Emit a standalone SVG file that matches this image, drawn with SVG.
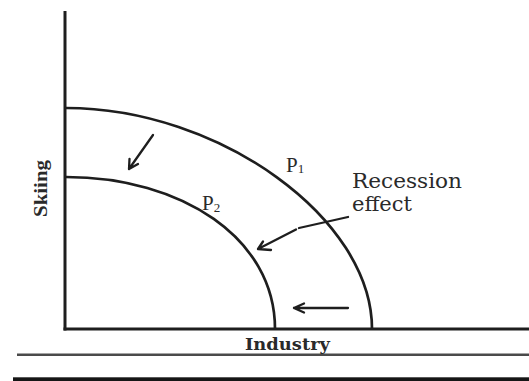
<svg xmlns="http://www.w3.org/2000/svg" width="529" height="381" viewBox="0 0 529 381">
<style>
.ax{stroke:#1e1e1e;stroke-width:3;fill:none}
.cv{stroke:#1e1e1e;stroke-width:2.7;fill:none}
.ar{stroke:#1e1e1e;stroke-width:2.3;fill:none;stroke-linecap:round;stroke-linejoin:round}
.lb{font-family:"Liberation Serif","DejaVu Serif",serif;fill:#2a2a2a}
.ds{font-family:"DejaVu Serif","Liberation Serif",serif;fill:#2a2a2a}
</style>
<rect width="529" height="381" fill="#fff"/>
<g id="axes">
<line class="ax" x1="65" y1="11" x2="65" y2="330.5"/>
<line class="ax" x1="63.5" y1="329" x2="529" y2="329"/>
</g>
<g id="rules">
<line x1="17" y1="354.7" x2="529" y2="354.7" stroke="#4a4a4a" stroke-width="2.6"/>
<rect x="13" y="377.3" width="516" height="3.7" fill="#161616"/>
</g>
<g id="P1">
<path class="cv" d="M66,108 C219.5,108 372,218.5 372,329"/>
<text class="lb" x="286" y="172" font-size="21">P<tspan font-size="13" dy="1">1</tspan></text>
</g>
<g id="P2">
<path class="cv" d="M66,177 C181.4,177 275,238.2 275,329"/>
<text class="lb" x="202" y="210" font-size="21">P<tspan font-size="13" dy="2">2</tspan></text>
</g>
<g id="label-recession">
<text class="ds" x="352" y="188" font-size="20" textLength="110" lengthAdjust="spacingAndGlyphs">Recession</text>
<text class="ds" x="352" y="211" font-size="20" textLength="60" lengthAdjust="spacingAndGlyphs">effect</text>
</g>
<g id="label-skiing">
<text class="lb" transform="translate(47,188.5) rotate(-90)" text-anchor="middle" font-size="19" font-weight="bold" textLength="57" lengthAdjust="spacingAndGlyphs">Skiing</text>
</g>
<g id="label-industry">
<text class="ds" x="245" y="350" font-size="17" font-weight="bold" textLength="85" lengthAdjust="spacingAndGlyphs">Industry</text>
</g>
<g id="connectors">
<path class="ar" d="M153,135 L129,169 M129,169 L129.5,159 M129,169 L138,164"/>
<path class="ar" d="M348,217 L299,228"/>
<path class="ar" d="M296,229.5 L258,249 M258,249 L263,241.5 M258,249 L271,250"/>
<path class="ar" d="M348,308 L294,308 M294,308 L304,303.5 M294,308 L304,312.5"/>
</g>
</svg>
